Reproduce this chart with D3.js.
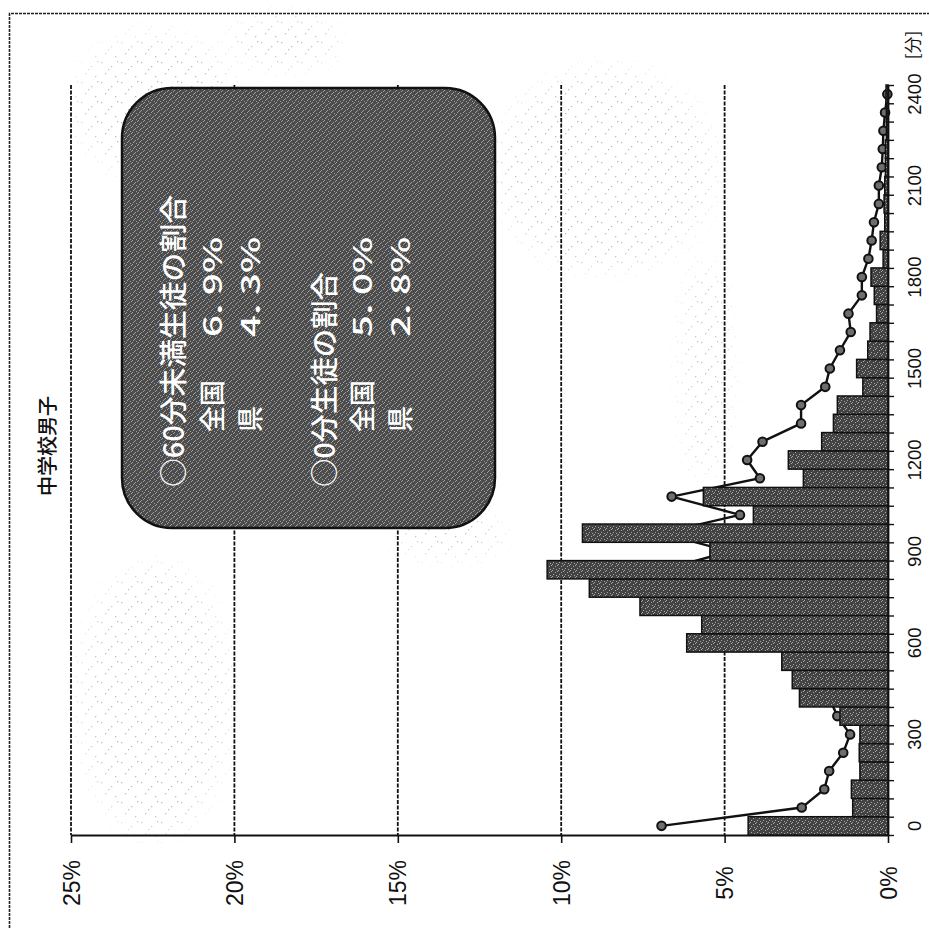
<!DOCTYPE html>
<html>
<head>
<meta charset="utf-8">
<script src="https://cdn.jsdelivr.net/npm/d3@7"></script>
<style>
  html, body { margin: 0; padding: 0; background: #ffffff; }
  svg { display: block; }
</style>
</head>
<body>
<svg id="chart" width="929" height="928"></svg>
<script>
// ---------------- data ----------------
const chartTitle = "中学校男子";
const unitLabel = "[分]";
const minutes = [0,60,120,180,240,300,360,420,480,540,600,660,720,780,840,900,960,1020,1080,1140,1200,
                 1260,1320,1380,1440,1500,1560,1620,1680,1740,1800,1860,1920,1980,2040,2100,2160,2220,2280,2340,2400];
// 県 (bars), %
const prefShare = [4.28,1.08,1.12,0.86,0.88,0.86,1.47,2.71,2.93,3.25,6.16,5.70,7.59,9.14,10.43,5.45,9.35,4.12,5.65,2.59,3.05,
                   2.03,1.67,1.55,0.77,0.96,0.62,0.55,0.35,0.42,0.52,0.15,0.24,0.10,0.12,0.10,0.08,0.08,0.05,0.05,0.06];
// 全国 (line), %
const nationalShare = [6.93,2.64,1.95,1.80,1.37,1.16,1.55,1.80,2.00,2.25,3.40,3.50,4.85,4.90,6.88,4.85,6.93,4.53,6.62,3.92,4.31,
                       3.84,2.66,2.66,1.92,1.78,1.47,1.14,1.21,0.80,0.80,0.60,0.50,0.43,0.28,0.28,0.19,0.16,0.14,0.09,0.02];
const percentTicks = [0,5,10,15,20,25];
const minuteTickLabels = [0,300,600,900,1200,1500,1800,2100,2400];
const noteHeads = ["○60分未満生徒の割合", "○0分生徒の割合"];
const noteRowLabels = ["全国", "県", "全国", "県"];
const noteRowValues = ["6. 9%", "4. 3%", "5. 0%", "2. 8%"];

// ---------------- layout ----------------
const svg = d3.select("#chart");
const X0 = 888, X25 = 71, YB = 835, YT = 85;
const x = d3.scaleLinear().domain([0, 25]).range([X0, X25]);
const yBand = d3.scaleBand().domain(minutes).range([YB, YT]).padding(0);
const yEdge = d3.scaleLinear().domain([0, minutes.length]).range([YB, YT]);

const defs = svg.append("defs");
// speckle texture for bars
const pb = defs.append("pattern").attr("id","speckBar").attr("patternUnits","userSpaceOnUse")
  .attr("width",6).attr("height",6);
pb.append("rect").attr("width",6).attr("height",6).attr("fill","#434343");
[[0,0],[3,2],[1,4],[4,5],[5,1]].forEach(([a,b]) =>
  pb.append("rect").attr("x",a).attr("y",b).attr("width",1).attr("height",1).attr("fill","#a8a8a8"));
// speckle texture for note box
const pn = defs.append("pattern").attr("id","speckBox").attr("patternUnits","userSpaceOnUse")
  .attr("width",6).attr("height",6);
pn.append("rect").attr("width",6).attr("height",6).attr("fill","#4c4c4c");
[[0,0],[3,2],[1,4],[4,5],[5,1],[2,3]].forEach(([a,b]) =>
  pn.append("rect").attr("x",a).attr("y",b).attr("width",1).attr("height",1).attr("fill","#a0a0a0"));
// faint dotted background
const pd = defs.append("pattern").attr("id","dots").attr("patternUnits","userSpaceOnUse")
  .attr("width",20).attr("height",20);
[[1,2],[11,6],[5,13],[15,16],[8,9],[17,1]].forEach(([a,b]) =>
  pd.append("rect").attr("x",a).attr("y",b).attr("width",1.3).attr("height",1.3).attr("fill","#8c8c8c"));
const blur = defs.append("filter").attr("id","soft");
blur.append("feGaussianBlur").attr("stdDeviation",12);
const mask = defs.append("mask").attr("id","dotMask");
const mg = mask.append("g").attr("filter","url(#soft)");
[[155,105,80,70],[285,42,55,25],[605,170,110,100],[705,370,22,110],[155,700,75,135],[450,535,55,22]]
  .forEach(([cx,cy,rx,ry]) => mg.append("ellipse").attr("cx",cx).attr("cy",cy).attr("rx",rx).attr("ry",ry).attr("fill","#fff"));
svg.append("rect").attr("x",0).attr("y",0).attr("width",929).attr("height",928)
  .attr("fill","url(#dots)").attr("mask","url(#dotMask)").attr("opacity",0.6);

// frame
svg.append("path").attr("d","M9.5,928 V13.5 H929").attr("fill","none")
  .attr("stroke","#222").attr("stroke-width",1.6).attr("stroke-dasharray","3,1");

// gridlines
svg.append("g").selectAll("line").data(percentTicks.filter(d => d > 0)).join("line")
  .attr("x1", d => x(d)).attr("x2", d => x(d)).attr("y1", YT).attr("y2", YB)
  .attr("stroke","#111").attr("stroke-width",1.8).attr("stroke-dasharray","4,1.5");

// value axis (bottom)
const gx = svg.append("g").attr("transform",`translate(0,${YB})`)
  .call(d3.axisBottom(x).tickValues(percentTicks).tickSize(8).tickSizeOuter(0).tickFormat(d => d + "%"));
gx.select(".domain").attr("stroke","#111").attr("stroke-width",1.8);
gx.selectAll(".tick line").attr("stroke","#111").attr("stroke-width",1.6);
gx.selectAll(".tick text").attr("y",0).attr("dy",null)
  .attr("transform","translate(0,48) rotate(-90)")
  .attr("text-anchor","middle").attr("dominant-baseline","central")
  .attr("font-family","'Liberation Sans', Arial, sans-serif").attr("font-size",23).attr("fill","#111");

// national line (drawn behind bars)
const midY = d => yBand(d) + yBand.bandwidth() / 2;
const lineData = minutes.map((m, i) => ({m, v: nationalShare[i]}));
svg.append("path").datum(lineData)
  .attr("d", d3.line().x(d => x(d.v)).y(d => midY(d.m)))
  .attr("fill","none").attr("stroke","#111").attr("stroke-width",2.4);
svg.append("g").selectAll("circle").data(lineData).join("circle")
  .attr("cx", d => x(d.v)).attr("cy", d => midY(d.m)).attr("r",4.3)
  .attr("fill","#6e6e6e").attr("stroke","#111").attr("stroke-width",2);

// prefecture bars
svg.append("g").selectAll("rect").data(minutes.map((m, i) => ({m, v: prefShare[i]}))).join("rect")
  .attr("x", d => x(d.v)).attr("width", d => x(0) - x(d.v))
  .attr("y", d => yBand(d.m)).attr("height", yBand.bandwidth())
  .attr("fill","url(#speckBar)").attr("stroke","#111").attr("stroke-width",1.5);

// category axis (right side, rotated chart)
const gyT = svg.append("g").attr("transform",`translate(${X0},0)`)
  .call(d3.axisRight(yEdge).tickValues(d3.range(0, minutes.length + 1)).tickSize(6).tickSizeOuter(0).tickFormat(""));
gyT.select(".domain").attr("stroke","#111").attr("stroke-width",1.8);
gyT.selectAll(".tick line").attr("stroke","#111").attr("stroke-width",1.4);
const gyL = svg.append("g").attr("transform",`translate(${X0},0)`)
  .call(d3.axisRight(yBand).tickValues(minuteTickLabels).tickSize(0));
gyL.select(".domain").remove();
gyL.selectAll(".tick text").attr("x",0).attr("dy",null)
  .attr("transform","translate(26,0) rotate(-90)")
  .attr("text-anchor","middle").attr("dominant-baseline","central")
  .attr("font-family","'Liberation Sans', Arial, sans-serif").attr("font-size",18.5).attr("fill","#111");

// unit label
svg.append("text").attr("transform","translate(911,45) rotate(-90)")
  .attr("text-anchor","middle").attr("dominant-baseline","central")
  .attr("font-family","'Noto Sans CJK JP', sans-serif").attr("font-size",17).attr("fill","#111")
  .text(unitLabel);

// title
svg.append("text").attr("transform","translate(46,446) rotate(-90)")
  .attr("text-anchor","middle").attr("dominant-baseline","central")
  .attr("font-family","'Noto Sans CJK JP', sans-serif").attr("font-size",20).attr("font-weight",500).attr("fill","#111")
  .text(chartTitle);

// note box
svg.append("rect").attr("x",122).attr("y",88).attr("width",373).attr("height",440)
  .attr("rx",50).attr("ry",50).attr("fill","url(#speckBox)").attr("stroke","#111").attr("stroke-width",2.5);
const noteFont = "'Noto Sans CJK JP', sans-serif";
const headX = [172, 323], headLen = [292, 215];
noteHeads.forEach((t, i) => {
  svg.append("text").attr("transform",`translate(${headX[i]},487) rotate(-90)`)
    .attr("dominant-baseline","central").attr("font-family",noteFont).attr("font-size",28).attr("font-weight",500)
    .attr("fill","#fff").attr("textLength",headLen[i]).attr("lengthAdjust","spacingAndGlyphs").text(t);
});
const rowX = [210, 248, 360, 398];
noteRowLabels.forEach((t, i) => {
  svg.append("text").attr("transform",`translate(${rowX[i]},432) rotate(-90)`)
    .attr("dominant-baseline","central").attr("font-family",noteFont).attr("font-size",26).attr("font-weight",500)
    .attr("fill","#fff").text(t);
});
noteRowValues.forEach((t, i) => {
  svg.append("text").attr("transform",`translate(${rowX[i]},337) rotate(-90)`)
    .attr("dominant-baseline","central").attr("font-family",noteFont).attr("font-size",26).attr("font-weight",500)
    .attr("fill","#fff").attr("textLength",100).attr("lengthAdjust","spacingAndGlyphs").text(t);
});
</script>
</body>
</html>
